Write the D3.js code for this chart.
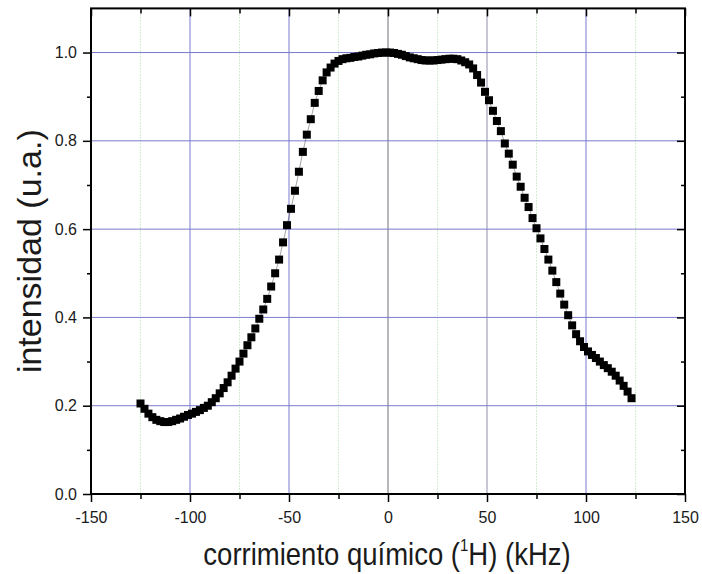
<!DOCTYPE html>
<html>
<head>
<meta charset="utf-8">
<script src="https://cdn.jsdelivr.net/npm/d3@7"></script>
<style>
  html, body { margin: 0; padding: 0; background: #ffffff; }
  svg { display: block; }
  text { font-family: "Liberation Sans", Arial, sans-serif; fill: #1a1a1a; }
</style>
</head>
<body>
<svg id="chart" width="702" height="574"></svg>
<script>
// Chemical shift (kHz), sampled every 2 kHz from -125 to 123
const shiftStart = -125;
const shiftStep = 2;
// Normalised intensity at each sampled shift
const intensity = [
  0.205, 0.193, 0.182, 0.174, 0.168, 0.165, 0.163, 0.163, 0.165, 0.168,
  0.171, 0.175, 0.179, 0.182, 0.186, 0.190, 0.195, 0.200, 0.208, 0.217,
  0.228, 0.240, 0.253, 0.268, 0.284, 0.300, 0.318, 0.337, 0.355, 0.375,
  0.397, 0.418, 0.442, 0.470, 0.500, 0.531, 0.570, 0.609, 0.646, 0.687,
  0.730, 0.775, 0.814, 0.849, 0.886, 0.913, 0.937, 0.955, 0.966, 0.975,
  0.981, 0.985, 0.987, 0.988, 0.990, 0.991, 0.993, 0.995, 0.996, 0.998,
  0.999, 1.000, 1.000, 1.000, 0.999, 0.997, 0.995, 0.992, 0.989, 0.987,
  0.985, 0.983, 0.982, 0.982, 0.982, 0.983, 0.984, 0.985, 0.986, 0.986,
  0.985, 0.982, 0.978, 0.973, 0.964, 0.949, 0.932, 0.911, 0.892, 0.868,
  0.845, 0.822, 0.794, 0.771, 0.746, 0.719, 0.696, 0.671, 0.650, 0.625,
  0.602, 0.579, 0.555, 0.531, 0.506, 0.480, 0.454, 0.429, 0.405, 0.382,
  0.362, 0.346, 0.333, 0.323, 0.315, 0.308, 0.300, 0.292, 0.285, 0.277,
  0.268, 0.257, 0.245, 0.232, 0.217
];
const shifts = intensity.map((_, i) => shiftStart + i * shiftStep);

// Axis ticks
const xMajorTicks = [-150, -100, -50, 0, 50, 100, 150];
const xMinorTicks = [-125, -75, -25, 25, 75, 125];
const yMajorTicks = [0.0, 0.2, 0.4, 0.6, 0.8, 1.0];
const yMinorTicks = [0.1, 0.3, 0.5, 0.7, 0.9];
const xDomain = [-150, 150];
const yDomain = [0, 1.1];

const xTitle = "corrimiento químico (";
const xTitleSup = "1";
const xTitleEnd = "H) (kHz)";
const yTitle = "intensidad (u.a.)";

const svg = d3.select("#chart");
const pLeft = 91, pRight = 685, pTop = 8.4, pBottom = 494;

const x = d3.scaleLinear().domain(xDomain).range([pLeft, pRight]);
const y = d3.scaleLinear().domain(yDomain).range([pBottom, pTop]);

// Grid
const grid = svg.append("g");
grid.selectAll("line.xminor").data(xMinorTicks).join("line")
  .attr("x1", d => x(d)).attr("x2", d => x(d))
  .attr("y1", pTop).attr("y2", pBottom)
  .attr("stroke", "#a8dca8").attr("stroke-width", 1)
  .attr("stroke-dasharray", "1,2");
const xGridColor = d => d === 0 ? "#6e6e78" : (d === 50 ? "#9090a8" : "#7a7ad0");
grid.selectAll("line.xmajor").data(xMajorTicks.slice(1, -1)).join("line")
  .attr("x1", d => x(d)).attr("x2", d => x(d))
  .attr("y1", pTop).attr("y2", pBottom)
  .attr("stroke", xGridColor).attr("stroke-width", 1);
grid.selectAll("line.ymajor").data(yMajorTicks.slice(1)).join("line")
  .attr("x1", pLeft).attr("x2", pRight)
  .attr("y1", d => y(d)).attr("y2", d => y(d))
  .attr("stroke", "#7a7ad0").attr("stroke-width", 1);

// Data: thin connecting trace plus square markers
const pts = shifts.map((s, i) => [s, intensity[i]]);
svg.append("path")
  .datum(pts)
  .attr("fill", "none")
  .attr("stroke", "#000").attr("stroke-width", 0.6).attr("stroke-opacity", 0.6)
  .attr("d", d3.line().x(d => x(d[0])).y(d => y(d[1])));
svg.append("g").selectAll("rect").data(pts).join("rect")
  .attr("x", d => x(d[0]) - 4).attr("y", d => y(d[1]) - 4)
  .attr("width", 8).attr("height", 8)
  .attr("fill", "#000");

// Axes
function styleAxis(g) {
  g.select(".domain").remove();
  g.selectAll(".tick line").attr("stroke", "#000").attr("stroke-width", 1.5);
  g.selectAll(".tick text").attr("font-size", 16)
    .attr("font-family", "'Liberation Sans', Arial, sans-serif").attr("fill", "#1a1a1a");
}
const plainInt = d => String(d);

svg.append("g").attr("transform", `translate(0,${pBottom})`)
  .call(d3.axisBottom(x).tickValues(xMajorTicks).tickSize(8).tickPadding(10).tickFormat(plainInt))
  .call(styleAxis);
svg.append("g").attr("transform", `translate(0,${pBottom})`)
  .call(d3.axisBottom(x).tickValues(xMinorTicks).tickSize(5).tickFormat(""))
  .call(styleAxis);
svg.append("g").attr("transform", `translate(0,${pTop})`)
  .call(d3.axisBottom(x).tickValues(xMajorTicks).tickSize(8).tickFormat(""))
  .call(styleAxis);
svg.append("g").attr("transform", `translate(0,${pTop})`)
  .call(d3.axisBottom(x).tickValues(xMinorTicks).tickSize(5).tickFormat(""))
  .call(styleAxis);

svg.append("g").attr("transform", `translate(${pLeft},0)`)
  .call(d3.axisLeft(y).tickValues(yMajorTicks).tickSize(8).tickPadding(6).tickFormat(d3.format(".1f")))
  .call(styleAxis);
svg.append("g").attr("transform", `translate(${pLeft},0)`)
  .call(d3.axisLeft(y).tickValues(yMinorTicks).tickSize(4).tickFormat(""))
  .call(styleAxis);
svg.append("g").attr("transform", `translate(${pRight},0)`)
  .call(d3.axisLeft(y).tickValues(yMajorTicks).tickSize(8).tickFormat(""))
  .call(styleAxis);
svg.append("g").attr("transform", `translate(${pRight},0)`)
  .call(d3.axisLeft(y).tickValues(yMinorTicks).tickSize(4).tickFormat(""))
  .call(styleAxis);

// Frame
svg.append("rect")
  .attr("x", pLeft).attr("y", pTop)
  .attr("width", pRight - pLeft).attr("height", pBottom - pTop)
  .attr("fill", "none").attr("stroke", "#000").attr("stroke-width", 2);

// Axis titles (tall, slightly condensed lettering)
const xt = svg.append("text")
  .attr("transform", `translate(${(pLeft + pRight) / 2 - 1},565) scale(1,1.15)`)
  .attr("text-anchor", "middle").attr("font-size", 27.5);
xt.append("tspan").text(xTitle);
xt.append("tspan").attr("font-size", 15).attr("dy", -12).text(xTitleSup);
xt.append("tspan").attr("dy", 12).text(xTitleEnd);

svg.append("text")
  .attr("transform", `translate(41,${(pTop + pBottom) / 2}) rotate(-90)`)
  .attr("text-anchor", "middle").attr("font-size", 34)
  .text(yTitle);
</script>
</body>
</html>
